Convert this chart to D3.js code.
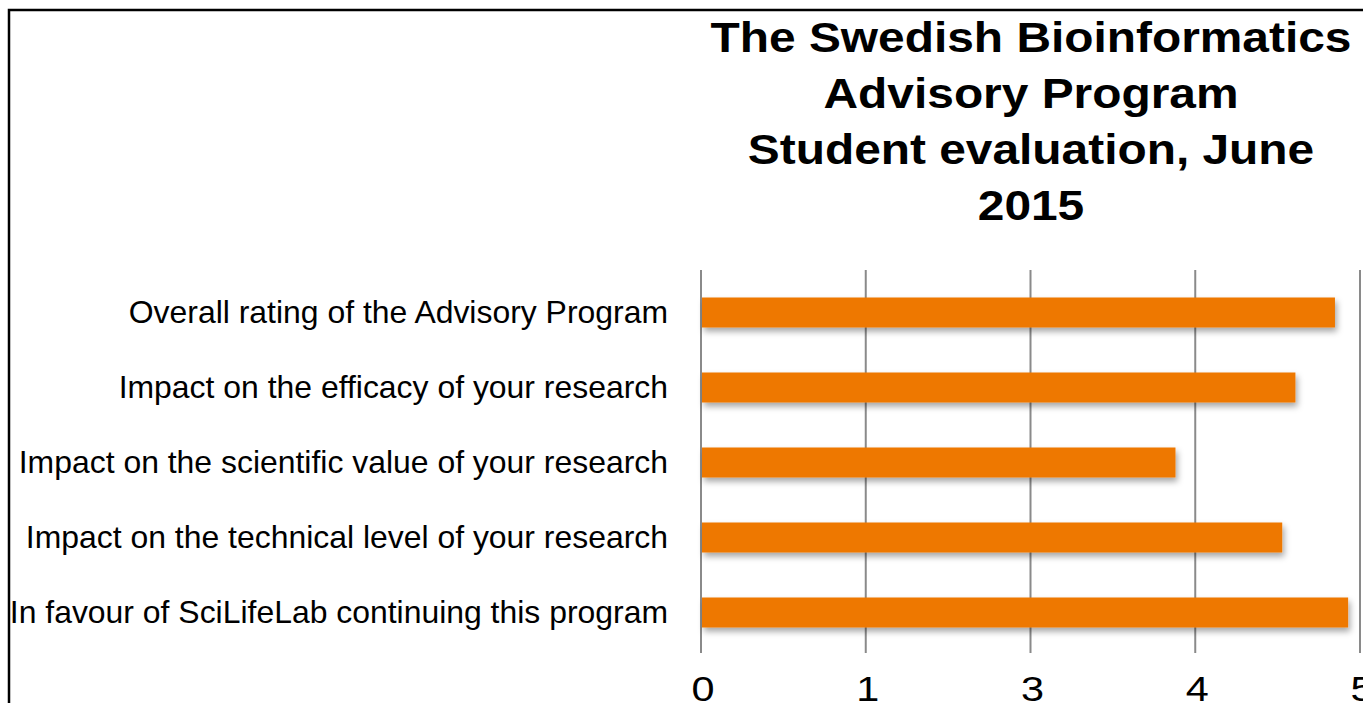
<!DOCTYPE html>
<html>
<head>
<meta charset="utf-8">
<script src="https://cdn.jsdelivr.net/npm/d3@7"></script>
<style>
  html, body { margin: 0; padding: 0; background: #fff; }
  svg { display: block; font-family: "Liberation Sans", Arial, Helvetica, sans-serif; }
</style>
</head>
<body>
<svg id="chart" width="1363" height="703"></svg>
<script>
// data
var categories = [
  "Overall rating of the Advisory Program",
  "Impact on the efficacy of your research",
  "Impact on the scientific value of your research",
  "Impact on the technical level of your research",
  "In favour of SciLifeLab continuing this program"
];
var scores = [4.81, 4.51, 3.60, 4.41, 4.91];
var tickValues = [0, 1.25, 2.5, 3.75, 5];
var titleLines = ["The Swedish Bioinformatics", "Advisory Program", "Student evaluation, June", "2015"];

var svg = d3.select("#chart");

// outer frame (runs off the right and bottom edges)
svg.append("rect")
  .attr("x", 9).attr("y", 10)
  .attr("width", 1400).attr("height", 800)
  .attr("fill", "none")
  .attr("stroke", "#000")
  .attr("stroke-width", 2.5);

var defs = svg.append("defs");
var f = defs.append("filter").attr("id", "shadow")
  .attr("x", "-5%").attr("y", "-40%").attr("width", "110%").attr("height", "200%");
f.append("feDropShadow")
  .attr("dx", 2).attr("dy", 4).attr("stdDeviation", 3)
  .attr("flood-color", "#000").attr("flood-opacity", 0.35);

// the source text is a bit wider than the installed fonts, stretch it
function place(x, y, sx) {
  return "translate(" + x + "," + y + ") scale(" + sx + ",1)";
}

// title
svg.append("g").selectAll("text").data(titleLines).enter()
  .append("text")
  .attr("transform", function(d, i) { return place(1031, 52 + i * 56, 1.14); })
  .attr("text-anchor", "middle")
  .attr("font-weight", "bold")
  .attr("font-size", 42)
  .text(function(d) { return d; });

var x = d3.scaleLinear().domain([0, 5]).range([701, 1360]);
var y = d3.scaleBand().domain(categories).range([275, 650])
  .paddingInner(0.6).paddingOuter(0.3);

// gridlines
svg.append("g").selectAll("line").data(tickValues).enter()
  .append("line")
  .attr("x1", function(d) { return x(d); })
  .attr("x2", function(d) { return x(d); })
  .attr("y1", 270).attr("y2", 653)
  .attr("stroke", "#8a8a8a")
  .attr("stroke-width", 2);

// bars
svg.append("g").selectAll("rect").data(scores).enter()
  .append("rect")
  .attr("x", x(0) + 1)
  .attr("y", function(d, i) { return y(categories[i]); })
  .attr("width", function(d) { return x(d) - x(0) - 1; })
  .attr("height", y.bandwidth())
  .attr("fill", "#ee7800")
  .attr("filter", "url(#shadow)");

// category labels
svg.append("g").selectAll("text").data(categories).enter()
  .append("text")
  .attr("transform", function(d) { return place(668, y(d) + y.bandwidth() / 2, 1.03); })
  .attr("dy", "0.35em")
  .attr("text-anchor", "end")
  .attr("font-size", 31)
  .attr("fill", "#000")
  .text(function(d) { return d; });

// value axis labels (rounded, as in the original)
svg.append("g").selectAll("text").data(tickValues).enter()
  .append("text")
  .attr("transform", function(d) { return place(x(d) + 2, 701, 1.15); })
  .attr("text-anchor", "middle")
  .attr("font-size", 36)
  .attr("fill", "#000")
  .text(function(d) { return d3.format(".0f")(Math.round(d)); });
</script>
</body>
</html>
